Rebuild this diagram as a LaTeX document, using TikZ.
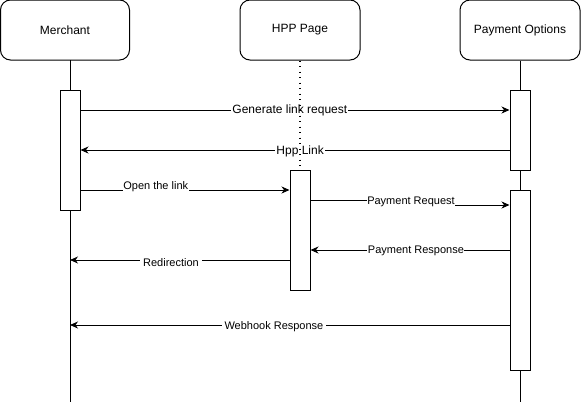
\documentclass[tikz,border=0pt]{standalone}
\usepackage{fontspec}
\setmainfont{Liberation Sans}
\usetikzlibrary{arrows.meta}
\begin{document}
\begin{tikzpicture}[x=1pt,y=-1pt,line width=1pt,
  actor/.style={draw,rounded corners=10pt,minimum width=130pt,minimum height=60pt,inner sep=0pt,font=\fontsize{12}{14}\selectfont},
  act/.style={draw,fill=white,minimum width=20pt,inner sep=0pt},
  msg/.style={-{Stealth[length=8pt,width=7pt,inset=2.5pt]}},
  lbl/.style={fill=white,inner sep=1pt,font=\fontsize{11}{13}\selectfont},
  lblb/.style={fill=white,inner sep=1pt,font=\fontsize{12}{14}\selectfont}]
\useasboundingbox (0,0) rectangle (581,402);
% actors
\node[actor,minimum width=129pt] (mer) at (65,30) {Merchant};
\node[actor,minimum width=120pt] (hpp) at (300,30) {HPP Page};
\node[actor,minimum width=120pt] (pay) at (520,30) {Payment Options};
% lifeline ends
\coordinate (merEnd) at (70,402);
\coordinate (payEnd) at (520,402);
\coordinate (merTop) at (70,60);
% lifelines
\draw (merTop) -- (merEnd);
\draw (pay.south) -- (payEnd);
% activations
\node[act,minimum height=120pt] (aM) at (70,150) {};
\node[act,minimum height=80pt] (aP1) at (520,130) {};
\node[act,minimum height=120pt] (aH) at (300,230) {};
\node[act,minimum height=180pt] (aP2) at (520,280) {};
% messages
\draw[msg] (aM.east |- 0,110) -- node[lblb,pos=0.488,yshift=-0.5pt]{Generate link request} (aP1.west |- 0,110);
\draw[msg] (aP1.west |- 0,150) -- node[lblb,pos=0.488,yshift=-1pt]{Hpp Link} (aM.east |- 0,150);
\draw[msg] (aM.east |- 0,190) -- node[lbl,pos=0.36,yshift=3pt,inner sep=0.5pt]{Open the link} (aH.west |- 0,190);
\coordinate (pr1) at (411,200);
\coordinate (pr2) at (411,205);
\draw[msg] (aH.east |- 0,200) -- (pr1) -- (pr2) -- (aP2.west |- 0,205);
\node[lbl,inner sep=0.5pt] (prl) at (411,202) {Payment Request};
\draw[msg] (aP2.west |- 0,250) -- node[lbl,pos=0.47,yshift=-1pt,inner sep=0.5pt]{Payment Response} (aH.east |- 0,250);
\draw[msg] (aH.west |- 0,260) -- node[lbl,pos=0.54,yshift=-3pt,inner sep=3pt]{Redirection} (merEnd |- 0,260);
\draw[msg] (aP2.west |- 0,325) -- node[lbl,pos=0.536,yshift=-2pt,inner sep=3pt]{Webhook Response} (merEnd |- 0,325);
% dotted lifeline (drawn over labels, as in the reference)
\draw[line width=1.4pt,dash pattern=on 1.4pt off 4.1pt] (hpp.south) -- (aH.north);
\end{tikzpicture}
\end{document}
